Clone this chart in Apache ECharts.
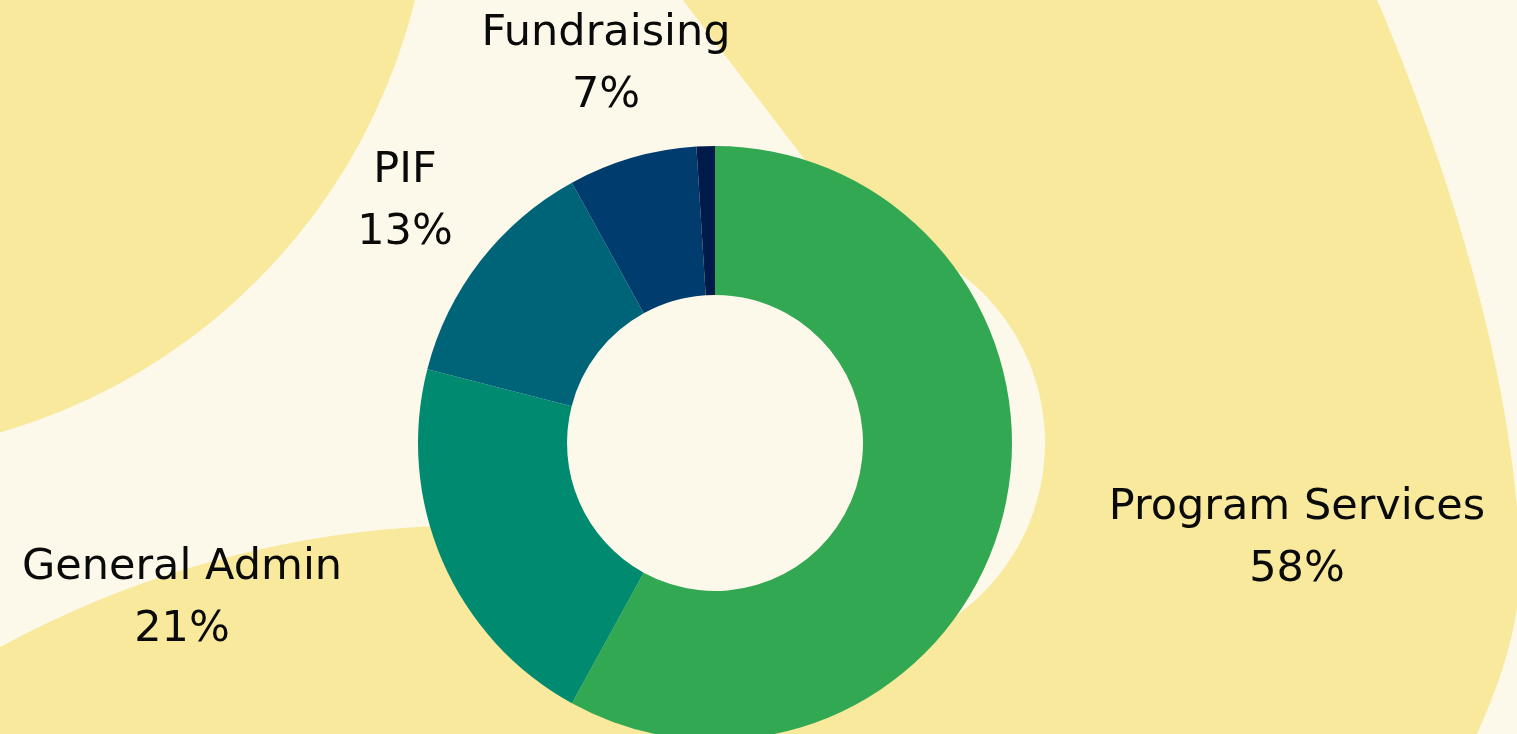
<!DOCTYPE html>
<html>
<head>
<meta charset="utf-8">
<title>Expenses</title>
<script src="https://cdn.jsdelivr.net/npm/echarts@6/dist/echarts.min.js"></script>
<style>
    html, body { margin: 0; padding: 0; background: #fdf9ea; }
    #main { width: 1517px; height: 734px; }
</style>
</head>
<body>
<div id="main"></div>
<script>
    // 数据
    const names = ['Program Services', 'General Admin', 'PIF', 'Fundraising', 'Other'];
    const values = [58, 21, 13, 7, 1];
    const colors = ['#32a852', '#008a70', '#006479', '#003d6e', '#001a4a'];

    // label anchors (centre of the two-line block)
    const labelSpots = [
        [1297, 539],
        [182, 599],
        [405, 202],
        [606, 65]
    ];

    const cream = '#fdf9ea';
    const yellow = '#f9e99c';

    // sample a cubic bezier for the background blob outline
    function bez(p0, p1, p2, p3, n) {
        let pts = [];
        for (let i = 1; i <= n; i++) {
            let t = i / n, u = 1 - t;
            pts.push([
                u * u * u * p0[0] + 3 * u * u * t * p1[0] + 3 * u * t * t * p2[0] + t * t * t * p3[0],
                u * u * u * p0[1] + 3 * u * u * t * p1[1] + 3 * u * t * t * p2[1] + t * t * t * p3[1]
            ]);
        }
        return pts;
    }

    let rightBlob = [[679, -5], [1375, -5]]
        .concat(bez([1375, -5], [1450, 170], [1515, 380], [1520, 560], 30))
        .concat(bez([1520, 560], [1522, 620], [1500, 685], [1474, 740], 20))
        .concat([[720, 740], [720, 443], [805, 160]]);

    let myChart = echarts.init(document.getElementById('main'));

    let data = names.map((n, i) => {
        let item = {name: n, value: values[i], itemStyle: {color: colors[i]}};
        if (i >= labelSpots.length) {
            item.label = {show: false};
        }
        return item;
    });

    let option = {
        backgroundColor: cream,
        animation: false,
        graphic: [
            // top-left blob
            {type: 'circle', z: -10, shape: {cx: -166, cy: -142, r: 598}, style: {fill: yellow}},
            // right blob
            {type: 'polygon', z: -10, shape: {points: rightBlob}, style: {fill: yellow}},
            // bottom-left blob
            {type: 'circle', z: -10, shape: {cx: 480, cy: 1530, r: 1005}, style: {fill: yellow}},
            // cream halo behind the ring
            {type: 'circle', z: -9, shape: {cx: 833, cy: 443, r: 212}, style: {fill: cream}},
            {type: 'circle', z: -9, shape: {cx: 715, cy: 443, r: 170}, style: {fill: cream}}
        ],
        series: [{
            type: 'pie',
            center: [715, 443],
            radius: [148, 297],
            startAngle: 90,
            clockwise: true,
            silent: true,
            itemStyle: {borderWidth: 0},
            label: {
                show: true,
                formatter: '{b}\n{d}%',
                fontFamily: '"DejaVu Sans", sans-serif',
                fontSize: 43,
                lineHeight: 62,
                color: '#0a0a0a',
                align: 'center'
            },
            labelLine: {show: false},
            labelLayout: function (params) {
                let p = labelSpots[params.dataIndex];
                if (!p) return {};
                return {x: p[0], y: p[1], align: 'center', verticalAlign: 'middle'};
            },
            data: data
        }]
    };
    myChart.setOption(option);
</script>
</body>
</html>
